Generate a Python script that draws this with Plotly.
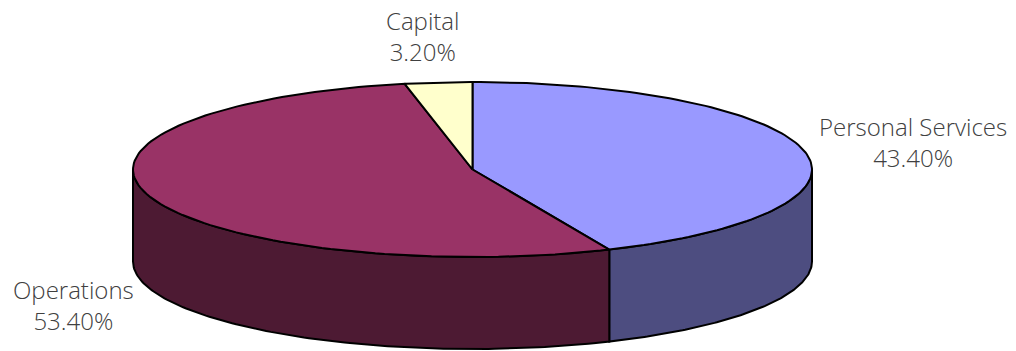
import numpy as np
import plotly.graph_objects as go

# Budget shares (percent)
categories = ["Personal Services", "Operations", "Capital"]
shares = [43.4, 53.4, 3.2]
top_colors = ["#9999FF", "#993366", "#FFFFCC"]
side_colors = ["#4D4D80", "#4D1A33", "#80805F"]

# Pie geometry in pixel units
W, H = 1016, 351
cx, cy = 472.5, 169.5
rx, ry = 339.5, 87.5
depth = 92


def pt(theta_deg, dy=0.0):
    """Point on the rim; theta measured clockwise from 12 o'clock."""
    t = np.radians(theta_deg)
    return cx + rx * np.sin(t), cy - ry * np.cos(t) + dy


def arc(a0, a1, dy=0.0, n=120):
    th = np.linspace(a0, a1, n)
    xs, ys = pt(th, dy)
    return list(xs), list(ys)


# slice angle spans, clockwise from the top
spans = []
start = 0.0
for v in shares:
    end = start + v / 100.0 * 360.0
    spans.append((start, end))
    start = end

fig = go.Figure()
line = dict(color="black", width=2)

# side walls: only the front half (90..270 deg) is visible
for (a0, a1), col in zip(spans, side_colors):
    s0, s1 = max(a0, 90.0), min(a1, 270.0)
    if s1 <= s0:
        continue
    tx, ty = arc(s0, s1)
    bx, by = arc(s1, s0, dy=depth)
    fig.add_trace(go.Scatter(
        x=tx + bx + [tx[0]], y=ty + by + [ty[0]],
        mode="lines", fill="toself", fillcolor=col, line=line,
        hoverinfo="skip", showlegend=False))

# top faces
for (a0, a1), col, name in zip(spans, top_colors, categories):
    ax, ay = arc(a0, a1)
    fig.add_trace(go.Scatter(
        x=[cx] + ax + [cx], y=[cy] + ay + [cy],
        mode="lines", fill="toself", fillcolor=col, line=line,
        name=name, hoverinfo="name", showlegend=False))

# category labels
label_pos = {
    "Personal Services": (913, 142),
    "Operations": (73, 305),
    "Capital": (423, 36),
}
for name, v in zip(categories, shares):
    x, y = label_pos[name]
    fig.add_annotation(
        x=x, y=y, xref="x", yref="y", showarrow=False,
        text=f"{name}<br>{v:.2f}%", align="center",
        font=dict(family="Open Sans", size=24, color="#404040", weight=300))

fig.update_xaxes(range=[0, W], visible=False, fixedrange=True)
fig.update_yaxes(range=[H, 0], visible=False, fixedrange=True)
fig.update_layout(
    width=W, height=H,
    margin=dict(l=0, r=0, t=0, b=0),
    paper_bgcolor="white", plot_bgcolor="white",
)

fig.write_html("out.html")
